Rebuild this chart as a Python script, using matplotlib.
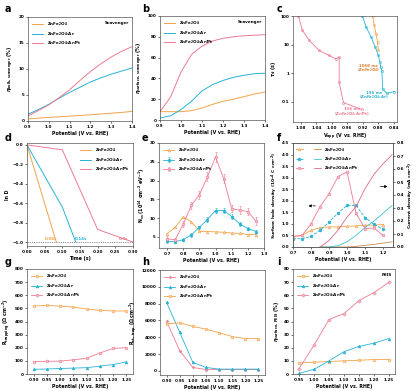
import matplotlib
matplotlib.use("Agg")
import matplotlib.pyplot as plt
from matplotlib.legend_handler import HandlerTuple
from matplotlib.lines import Line2D

W, H = 416, 391
C_O = "#F2A24A"   # ZnFe2O4
C_B = "#27B3D6"   # ZnFe2O4:Ar
C_P = "#EE7A90"   # ZnFe2O4:Ar/Pt
LAB = ["ZnFe$_2$O$_4$", "ZnFe$_2$O$_4$:Ar", "ZnFe$_2$O$_4$:Ar/Pt"]
XLAB = "Potential (V vs. RHE)"

# --- a / b : scavenger efficiencies ---
pot_ab = [0.90, 0.95, 1.00, 1.05, 1.10, 1.15, 1.20, 1.25, 1.30, 1.35, 1.40]
a_o = [0.4, 0.55, 0.7, 0.8, 0.95, 1.05, 1.2, 1.35, 1.5, 1.65, 1.85]
a_b = [1.3, 2.2, 3.2, 4.4, 5.5, 6.5, 7.5, 8.3, 9.0, 9.6, 10.2]
a_p = [1.0, 2.0, 3.1, 4.5, 6.0, 7.8, 9.5, 11.0, 12.3, 13.4, 14.3]
b_o = [8, 8, 8, 9, 11.5, 15, 18, 20, 22.5, 25, 27]
b_b = [2, 4, 10, 18, 28, 34, 38, 41, 43, 44.5, 45]
b_p = [8, 22, 46, 63, 71, 76, 78.5, 80, 81, 81.5, 82]

# --- c : tau_d vs V ---
c_p_v = [1.086, 1.076, 1.058, 1.033, 1.007, 0.990, 0.981, 0.981, 0.970, 0.923]
c_p_t = [100, 32, 14, 6.3, 4.2, 3.2, 3.7, 0.48, 0.095, 0.055]
c_b_v = [0.921, 0.912, 0.899, 0.888, 0.880, 0.876, 0.874, 0.871, 0.869, 0.858, 0.839]
c_b_t = [100, 42, 18.7, 8.3, 4.2, 2.4, 1.6, 1.24, 0.28, 0.20, 0.23]
c_o_v = [0.895, 0.891, 0.886, 0.882, 0.880]
c_o_t = [100, 48, 24, 12.4, 6.3]

# --- d : ln D vs time ---
d_o_t, d_o = [0.0, 0.083], [0.0, -1.0]
d_b_t, d_b = [0.0, 0.10, 0.138], [0.0, -0.64, -1.0]
d_p_t, d_p = [0.0, 0.10, 0.20, 0.30], [0.0, -0.05, -0.87, -1.0]

# --- e : N_ss ---
pot_e = [0.70, 0.75, 0.80, 0.85, 0.90, 0.95, 1.00, 1.05, 1.10, 1.15, 1.20, 1.25]
e_o = [5.8, 7.5, 10.3, 9.0, 6.5, 6.4, 6.3, 6.2, 6.0, 5.9, 5.6, 5.6]
e_b = [3.8, 3.7, 4.2, 5.5, 7.5, 9.6, 12.0, 12.0, 10.4, 8.4, 7.2, 6.4]
e_p = [4.5, 4.2, 8.3, 13.4, 16.2, 21.0, 26.3, 20.5, 12.5, 12.1, 11.7, 9.2]
e_b_err = [0.4, 0.4, 0.4, 0.5, 0.5, 0.6, 0.6, 0.6, 0.6, 0.5, 0.5, 0.5]
e_p_err = [0.6, 0.6, 0.8, 1.0, 1.0, 1.2, 1.3, 1.2, 1.0, 1.0, 1.0, 1.0]

# --- f : surface hole density + current density ---
pot_f = [0.70, 0.75, 0.80, 0.85, 0.90, 0.95, 1.00, 1.05, 1.10, 1.15, 1.20]
f_o = [0.46, 0.50, 0.72, 0.84, 0.87, 0.87, 0.90, 0.91, 0.94, 0.95, 0.97]
f_b = [0.36, 0.36, 0.46, 0.72, 1.08, 1.47, 1.80, 1.80, 1.27, 0.98, 0.76]
f_p = [0.45, 0.50, 1.00, 1.75, 2.30, 3.05, 3.25, 1.45, 0.80, 0.82, 0.50]
pot_j = [0.85, 0.90, 0.95, 1.00, 1.05, 1.10, 1.15, 1.20, 1.25]
j_o = [0.0, 0.0, 0.0, 0.0, 0.005, 0.013, 0.02, 0.03, 0.04]
j_b = [0.0, 0.0, 0.01, 0.04, 0.09, 0.15, 0.20, 0.26, 0.32]
j_p = [0.0, 0.05, 0.13, 0.23, 0.31, 0.45, 0.56, 0.64, 0.71]

# --- g / h / i ---
pot_gh = [0.90, 0.95, 1.00, 1.05, 1.10, 1.15, 1.20, 1.25]
g_o = [518, 522, 518, 510, 495, 485, 480, 480]
g_b = [36, 38, 42, 45, 48, 60, 72, 92]
g_p = [95, 97, 98, 108, 120, 160, 195, 201]
h_1 = [5900, 2400, 400, 150, 150, 150, 150, 150]     # legend: ZnFe2O4
h_2 = [8150, 4600, 1000, 400, 200, 200, 200, 200]    # ZnFe2O4:Ar
h_3 = [5600, 5700, 5300, 4950, 4550, 4070, 3830, 3830]  # ZnFe2O4:Ar/Pt
pot_i = [0.95, 1.00, 1.05, 1.10, 1.15, 1.20, 1.25]
i_o = [8.4, 9, 9.5, 10, 10.5, 11, 11]
i_b = [0.5, 3.5, 10, 17, 21, 23.5, 27]
i_p = [4, 22, 41.5, 46, 56, 62, 70]

FS = 3.0
plt.rcParams.update({"font.family": "DejaVu Sans", "font.size": FS,
                     "font.weight": "bold", "axes.labelweight": "bold",
                     "axes.linewidth": 0.5, "axes.edgecolor": "#555555",
                     "xtick.major.width": 0.4, "ytick.major.width": 0.4,
                     "xtick.major.size": 1.5, "ytick.major.size": 1.5,
                     "xtick.major.pad": 1.2, "ytick.major.pad": 1.2,
                     "axes.labelpad": 1.5})

fig = plt.figure(figsize=(W / 100, H / 100), dpi=100)


def box(l, t, r, b):
    return fig.add_axes([l / W, 1 - b / H, (r - l) / W, (b - t) / H])


def leg(ax, **kw):
    ax.legend(frameon=False, fontsize=FS, handlelength=2.8, labelspacing=0.4,
              borderaxespad=0.5, **kw)


lw = 0.7
# a
ax = box(28, 17, 132, 121)
ax.plot(pot_ab, a_o, color=C_O, lw=lw, label=LAB[0])
ax.plot(pot_ab, a_b, color=C_B, lw=lw, label=LAB[1])
ax.plot(pot_ab, a_p, color=C_P, lw=lw, label=LAB[2])
ax.set_xlim(0.9, 1.4); ax.set_ylim(0, 20)
ax.set_yticks([0, 5, 10, 15, 20])
ax.set_xlabel(XLAB, fontsize=3.4); ax.set_ylabel(r"$\eta_{\rm bulk,\ scavenger}$ (%)", fontsize=3.4)
ax.text(0.97, 0.96, "Scavenger", transform=ax.transAxes, ha="right", va="top", fontsize=FS)
leg(ax, loc="upper left")

# b
ax = box(160, 16, 265, 120)
ax.plot(pot_ab, b_o, color=C_O, lw=lw, label=LAB[0])
ax.plot(pot_ab, b_b, color=C_B, lw=lw, label=LAB[1])
ax.plot(pot_ab, b_p, color=C_P, lw=lw, label=LAB[2])
ax.set_xlim(0.9, 1.4); ax.set_ylim(0, 100)
ax.set_yticks(range(0, 101, 20))
ax.set_xlabel(XLAB, fontsize=3.4); ax.set_ylabel(r"$\eta_{\rm surface,\ scavenger}$ (%)", fontsize=3.4)
ax.text(0.97, 0.96, "Scavenger", transform=ax.transAxes, ha="right", va="top", fontsize=FS)
leg(ax, loc="upper left")

# c
ax = box(293, 16, 397, 122)
ax.plot(c_p_v, c_p_t, color=C_P, lw=0.6, marker="o", ms=1.6, mfc="none", mew=0.4)
ax.plot(c_b_v, c_b_t, color=C_B, lw=0.6, marker="o", ms=1.6, mfc="none", mew=0.4)
ax.plot(c_o_v, c_o_t, color=C_O, lw=0.6, marker="o", ms=1.6, mfc="none", mew=0.4)
ax.set_yscale("log")
ax.set_xlim(1.10, 0.832); ax.set_ylim(0.02, 100)
ax.set_xticks([1.08, 1.04, 1.00, 0.96, 0.92, 0.88, 0.84])
ax.set_yticks([0.1, 1, 10, 100]); ax.set_yticklabels(["0.1", "1", "10", "100"])
ax.minorticks_off()
ax.set_xlabel(r"V$_{\rm app}$ (V vs. RHE)", fontsize=3.4); ax.set_ylabel(r"$\tau_{\rm d}$ (s)", fontsize=3.4)
ax.text(0.947, 0.042, "156 ms\n(ZnFe$_2$O$_4$:Ar/Pt)", color=C_P, ha="center", va="center",
        fontsize=2.8, linespacing=0.9)
ax.text(0.906, 1.4, "1068 ms\n(ZnFe$_2$O$_4$)", color="#D9822B", ha="center", va="center",
        fontsize=2.8, linespacing=0.9)
ax.text(0.891, 0.16, "196 ms\n(ZnFe$_2$O$_4$:Ar)", color=C_B, ha="center", va="center",
        fontsize=2.8, linespacing=0.9)

# d
ax = box(27, 143, 133, 246)
ax.plot(d_o_t, d_o, color=C_O, lw=lw, label=LAB[0])
ax.plot(d_b_t, d_b, color=C_B, lw=lw, label=LAB[1])
ax.plot(d_p_t, d_p, color=C_P, lw=lw, label=LAB[2])
ax.axhline(-1.0, color="#333333", lw=0.4, ls=(0, (2, 2)))
ax.set_xlim(0, 0.30); ax.set_ylim(-1.04, 0.02)
ax.set_xticks([0.0, 0.05, 0.10, 0.15, 0.20, 0.25, 0.30])
ax.set_xticklabels(["0.00", "0.05", "0.10", "0.15", "0.20", "0.25", "0.30"])
ax.set_yticks([0.0, -0.2, -0.4, -0.6, -0.8, -1.0])
ax.set_xlabel("Time (s)", fontsize=3.4); ax.set_ylabel("ln D", fontsize=3.4)
ax.text(0.068, -0.975, "0.08s", color=C_O, fontsize=2.9, ha="center")
ax.text(0.152, -0.975, "0.14s", color=C_B, fontsize=2.9, ha="center")
ax.text(0.272, -0.975, "0.3s", color=C_P, fontsize=2.9, ha="center")
leg(ax, loc="upper right")

# e
ax = box(159, 143, 264, 248)
ax.plot(pot_e, e_o, color=C_O, lw=0.6, marker="^", ms=2, mfc="#FBD9B0", mew=0.4, label=LAB[0])
ax.errorbar(pot_e, e_b, yerr=e_b_err, color=C_B, lw=0.6, marker="h", ms=2.2, mfc=C_B,
            mew=0.4, elinewidth=0.4, capsize=0.8, label=LAB[1])
ax.errorbar(pot_e, e_p, yerr=e_p_err, color=C_P, lw=0.6, marker="o", ms=2, mfc="#F7C3CC",
            mew=0.4, elinewidth=0.4, capsize=0.8, label=LAB[2])
ax.set_xlim(0.65, 1.3); ax.set_ylim(2, 30)
ax.set_xticks([0.7, 0.8, 0.9, 1.0, 1.1, 1.2, 1.3])
ax.set_yticks([5, 10, 15, 20, 25, 30])
ax.set_xlabel(XLAB, fontsize=3.4)
ax.set_ylabel(r"N$_{\rm ss}$ (10$^{14}$ cm$^{-2}$ eV$^{-1}$)", fontsize=3.4)
leg(ax, loc="upper left")

# f
ax = box(293, 143, 393, 247)
ax2 = ax.twinx()
m_o, = ax.plot(pot_f, f_o, color=C_O, lw=0.6, marker="^", ms=2, mfc="#FBD9B0", mew=0.4)
m_b, = ax.plot(pot_f, f_b, color=C_B, lw=0.6, ls="--", marker="h", ms=2.2, mew=0.4)
m_p, = ax.plot(pot_f, f_p, color=C_P, lw=0.6, marker="o", ms=2, mfc="#F7C3CC", mew=0.4)
l_o, = ax2.plot(pot_j, j_o, color="#C98B4A", lw=0.6)
l_b, = ax2.plot(pot_j, j_b, color="#3CC3C9", lw=0.6)
l_p, = ax2.plot(pot_j, j_p, color="#D86A84", lw=0.6)
ax.set_xlim(0.7, 1.255); ax.set_ylim(0, 4.5)
ax2.set_ylim(0, 0.8)
ax.set_xticks([0.7, 0.8, 0.9, 1.0, 1.1, 1.2])
ax.set_yticks([0, 0.5, 1.0, 1.5, 2.0, 2.5, 3.0, 3.5, 4.0, 4.5])
ax2.set_yticks([0, 0.1, 0.2, 0.3, 0.4, 0.5, 0.6, 0.7, 0.8])
ax.set_xlabel(XLAB, fontsize=3.4)
ax.set_ylabel(r"Surface hole density (10$^{-4}$ C cm$^{-2}$)", fontsize=3.2)
ax2.set_ylabel(r"Current density (mA cm$^{-2}$)", fontsize=3.2, labelpad=1.0)
ax.annotate("", xy=(0.77, 1.78), xytext=(0.84, 1.78),
            arrowprops=dict(arrowstyle="-|>", color="black", lw=0.5, ls="--", mutation_scale=4))
ax2.annotate("", xy=(1.24, 0.465), xytext=(1.17, 0.465),
             arrowprops=dict(arrowstyle="-|>", color="black", lw=0.5, mutation_scale=4))
sl = Line2D([], [], color="none")
ax.legend([(m_o, sl, l_o), (m_b, sl, l_b), (m_p, sl, l_p)], LAB,
          handler_map={tuple: HandlerTuple(ndivide=None, pad=0.6)},
          frameon=False, fontsize=FS, handlelength=6.0, labelspacing=0.4,
          loc="upper left", borderaxespad=0.3)

# g
ax = box(27, 269, 133, 374)
ax.plot(pot_gh, g_o, color=C_O, lw=0.6, marker="o", ms=2, mfc="#FBD9B0", mew=0.4, label=LAB[0])
ax.plot(pot_gh, g_b, color=C_B, lw=0.6, marker="^", ms=2, mew=0.4, label=LAB[1])
ax.plot(pot_gh, g_p, color=C_P, lw=0.6, marker="o", ms=2, mfc="#F7C3CC", mew=0.4, label=LAB[2])
ax.set_xlim(0.875, 1.275); ax.set_ylim(0, 800)
ax.set_xticks(pot_gh); ax.set_xticklabels([f"{v:.2f}" for v in pot_gh])
ax.set_yticks(range(0, 801, 100))
ax.set_xlabel(XLAB, fontsize=3.4); ax.set_ylabel(r"R$_{\rm trapping}$ ($\Omega$ cm$^{-2}$)", fontsize=3.4)
leg(ax, loc="upper left")

# h
ax = box(160, 270, 265, 375)
ax.plot(pot_gh, h_1, color=C_P, lw=0.6, marker="P", ms=2, mfc="#C9A9AE", mew=0.3, label=LAB[0])
ax.plot(pot_gh, h_2, color=C_B, lw=0.6, marker="^", ms=2, mew=0.4, label=LAB[1])
ax.plot(pot_gh, h_3, color=C_O, lw=0.6, marker="o", ms=2, mfc="#FBD9B0", mew=0.4, label=LAB[2])
ax.set_xlim(0.875, 1.275); ax.set_ylim(-500, 12000)
ax.set_xticks(pot_gh); ax.set_xticklabels([f"{v:.2f}" for v in pot_gh])
ax.set_yticks(range(0, 12001, 2000))
ax.set_xlabel(XLAB, fontsize=3.4); ax.set_ylabel(r"R$_{\rm ct,\ trap}$ ($\Omega$ cm$^{-2}$)", fontsize=3.4)
leg(ax, loc="upper left")

# i
ax = box(293, 269, 395, 374)
ax.plot(pot_i, i_o, color=C_O, lw=0.6, marker="o", ms=2, mfc="#FBD9B0", mew=0.4, label=LAB[0])
ax.plot(pot_i, i_b, color=C_B, lw=0.6, marker="^", ms=2, mew=0.4, label=LAB[1])
ax.plot(pot_i, i_p, color=C_P, lw=0.6, marker="D", ms=1.7, mfc="#F7C3CC", mew=0.4, label=LAB[2])
ax.set_xlim(0.93, 1.27); ax.set_ylim(0, 80)
ax.set_xticks(pot_i); ax.set_xticklabels([f"{v:.2f}" for v in pot_i])
ax.set_yticks(range(0, 81, 10))
ax.set_xlabel(XLAB, fontsize=3.4); ax.set_ylabel(r"$\eta_{\rm surface,\ PEIS}$ (%)", fontsize=3.4)
ax.text(0.97, 0.96, "PEIS", transform=ax.transAxes, ha="right", va="top", fontsize=FS)
leg(ax, loc="upper left")

# panel letters
for s, x, y in [("a", 5, 9), ("b", 142, 9), ("c", 277, 9),
                ("d", 5, 138), ("e", 142, 138), ("f", 277, 138),
                ("g", 5, 262), ("h", 142, 262), ("i", 277, 262)]:
    fig.text(x / W, 1 - y / H, s, fontsize=7, fontweight="bold", va="center")

fig.savefig("out.png", dpi=100)
